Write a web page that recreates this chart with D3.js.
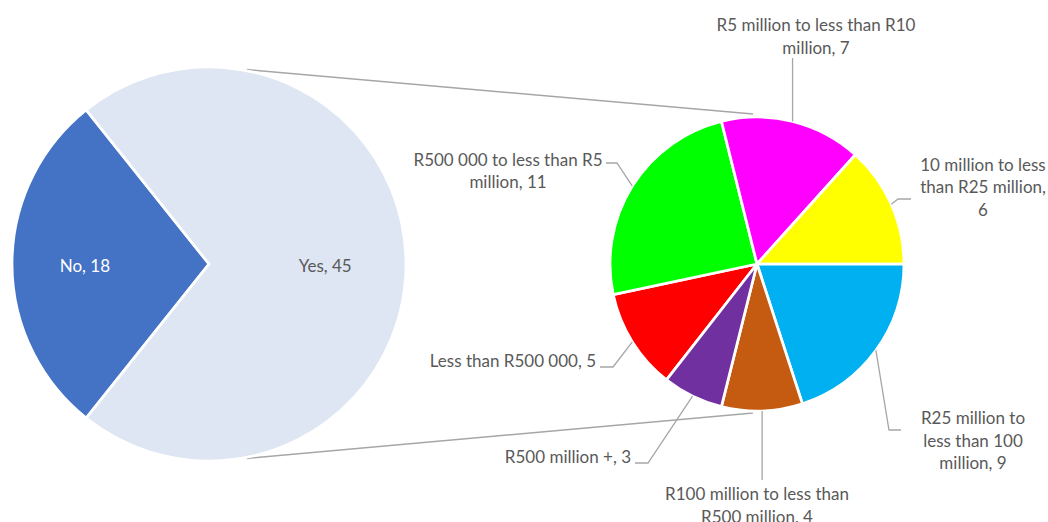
<!DOCTYPE html>
<html>
<head>
<meta charset="utf-8">
<script src="https://cdn.jsdelivr.net/npm/d3@7"></script>
<style>
  html, body { margin: 0; padding: 0; background: #ffffff; }
  svg { display: block; }
  text { font-family: Lato, "Open Sans", sans-serif; }
</style>
</head>
<body>
<svg id="chart" width="1048" height="522"></svg>
<script>
// Primary pie: did the respondent answer yes / no
const primaryLabels = ["No", "Yes"];
const primaryValues = [18, 45];
const primaryColors = ["#4472c4", "#dee6f3"];

// Secondary pie: breakdown of the "Yes" answers
const secondaryLabels = [
  "Less than R500 000",
  "R500 000 to less than R5 million",
  "R5 million to less than R10 million",
  "10 million to less than R25 million",
  "R25 million to less than 100 million",
  "R100 million to less than R500 million",
  "R500 million +"
];
const secondaryValues = [5, 11, 7, 6, 9, 4, 3];
const secondaryColors = ["#ff0000", "#00ff00", "#ff00ff", "#ffff00", "#00b0f0", "#c55a11", "#7030a0"];

// ---- layout ----
const svg = d3.select("#chart");
const deg = Math.PI / 180;
const P = { cx: 209, cy: 264, r: 197 };
const S = { cx: 757, cy: 264, r: 147 };
const fontSize = 17;
const lineGap = 22.5;
const labelColor = "#595959";
const leaderColor = "#a6a6a6";

// label placement for the secondary pie (word counts per line, anchor, first baseline, leader bends)
const secondaryLayout = [
  { x: 596, y: 367,   anchor: "end",    breaks: [],     leader: [[613, 367], [600, 367]] },
  { x: 508, y: 165.5, anchor: "middle", breaks: [6],    leader: [[617, 163], [606, 163]] },
  { x: 816, y: 31,    anchor: "middle", breaks: [6],    leader: [["arc", 58]] },
  { x: 983, y: 170.5, anchor: "middle", breaks: [4, 3], leader: [[898, 199], [911, 199]] },
  { x: 973, y: 424,   anchor: "middle", breaks: [3, 3], leader: [[889, 430], [901, 430]] },
  { x: 757, y: 500,   anchor: "middle", breaks: [5],    leader: [["arc", 480]] },
  { x: 631, y: 463,   anchor: "end",    breaks: [],     leader: [[648, 463], [635, 463]] }
];

// ---- connector lines between the two pies ----
const connectorGroup = svg.append("g");
const polar = (c, r, a) => [c.cx + r * Math.sin(a), c.cy - r * Math.cos(a)];
const connectors = [
  [polar(P, P.r + 1, 11 * deg), polar(S, S.r + 3, -1.5 * deg)],
  [polar(P, P.r + 1, 169 * deg), polar(S, S.r + 2, 181.5 * deg)]
];
connectorGroup.selectAll("line")
  .data(connectors)
  .join("line")
  .attr("x1", d => d[0][0]).attr("y1", d => d[0][1])
  .attr("x2", d => d[1][0]).attr("y2", d => d[1][1])
  .attr("stroke", leaderColor)
  .attr("stroke-width", 1.6);

// ---- primary pie ----
const noShare = primaryValues[0] / d3.sum(primaryValues);
const primaryStart = 1.5 * Math.PI - Math.PI * noShare;
const primaryPie = d3.pie().sort(null)
  .startAngle(primaryStart)
  .endAngle(primaryStart + 2 * Math.PI);
const primaryArcs = primaryPie(primaryValues);
const primaryArc = d3.arc().innerRadius(0).outerRadius(P.r);

const pg = svg.append("g").attr("transform", `translate(${P.cx},${P.cy})`);
pg.selectAll("path")
  .data(primaryArcs)
  .join("path")
  .attr("d", primaryArc)
  .attr("fill", (d, i) => primaryColors[i])
  .attr("stroke", "#ffffff")
  .attr("stroke-width", 2.75)
  .attr("stroke-linejoin", "miter");

// in-slice labels sit a little past mid radius
const labelRadius = [0.63, 0.59];
pg.selectAll("text")
  .data(primaryArcs)
  .join("text")
  .attr("x", (d, i) => d3.arc().innerRadius(P.r * labelRadius[i]).outerRadius(P.r * labelRadius[i]).centroid(d)[0])
  .attr("y", (d, i) => d3.arc().innerRadius(P.r * labelRadius[i]).outerRadius(P.r * labelRadius[i]).centroid(d)[1] + 7.5)
  .attr("text-anchor", "middle")
  .attr("font-size", fontSize)
  .attr("fill", (d, i) => i === 0 ? "#ffffff" : labelColor)
  .text((d, i) => `${primaryLabels[i]}, ${primaryValues[i]}`);

// ---- secondary pie ----
const secondaryStart = 218 * deg;
const secondaryPie = d3.pie().sort(null)
  .startAngle(secondaryStart)
  .endAngle(secondaryStart + 2 * Math.PI);
const secondaryArcs = secondaryPie(secondaryValues);
const secondaryArc = d3.arc().innerRadius(0).outerRadius(S.r);

const sg = svg.append("g").attr("transform", `translate(${S.cx},${S.cy})`);
sg.selectAll("path")
  .data(secondaryArcs)
  .join("path")
  .attr("d", secondaryArc)
  .attr("fill", (d, i) => secondaryColors[i])
  .attr("stroke", "#ffffff")
  .attr("stroke-width", 2.75);

// leader lines: start on the rim at the slice's mid angle
const leaderGroup = svg.append("g");
secondaryArcs.forEach((d, i) => {
  const mid = (d.startAngle + d.endAngle) / 2;
  const start = polar(S, S.r, mid);
  const pts = [start].concat(secondaryLayout[i].leader.map(p => p[0] === "arc" ? [start[0], p[1]] : p));
  leaderGroup.append("path")
    .attr("d", d3.line()(pts))
    .attr("fill", "none")
    .attr("stroke", leaderColor)
    .attr("stroke-width", 1.3);
});

// wrapped data labels
const labelGroup = svg.append("g");
secondaryArcs.forEach((d, i) => {
  const L = secondaryLayout[i];
  const words = `${secondaryLabels[i]}, ${secondaryValues[i]}`.split(" ");
  const lines = [];
  let pos = 0;
  L.breaks.forEach(n => { lines.push(words.slice(pos, pos + n).join(" ")); pos += n; });
  lines.push(words.slice(pos).join(" "));
  const t = labelGroup.append("text")
    .attr("text-anchor", L.anchor)
    .attr("font-size", fontSize)
    .attr("fill", labelColor);
  lines.forEach((ln, k) => {
    t.append("tspan").attr("x", L.x).attr("y", L.y + k * lineGap).text(ln);
  });
});
</script>
</body>
</html>
